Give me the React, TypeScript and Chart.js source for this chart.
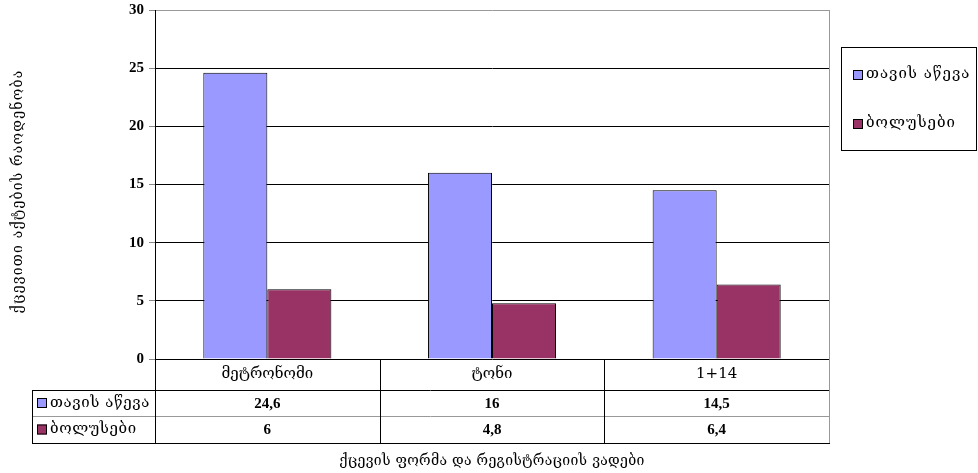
import React, { useEffect, useRef } from "react";
import { Chart, registerables } from "chart.js";

Chart.register(...registerables);

const categories = ["მეტრონომი", "ტონი", "1+14"];
const seriesNames = ["თავის აწევა", "ბოლუსები"];
const headLift = [24.6, 16, 14.5];
const boluses = [6, 4.8, 6.4];
const seriesColors = ["#9999FF", "#993366"];
const yTitle = "ქცევითი აქტების რაოდენობა";
const xTitle = "ქცევის ფორმა და რეგისტრაციის ვადები";

const GEO = '"DejaVu Serif", "Liberation Serif", serif';
const NUM = '"Liberation Serif", "Times New Roman", serif';

const fmt = (v: number) => String(v).replace(".", ",");

const setSpacing = (ctx: any, px: number) => {
  if ("letterSpacing" in ctx) ctx.letterSpacing = `${px}px`;
};

const tablePlugin = {
  id: "dataTable",
  afterDraw(chart: any) {
    const ctx = chart.ctx as CanvasRenderingContext2D;
    const area = chart.chartArea;
    const x = chart.scales.x;
    const n = categories.length;
    const catW = (x.right - x.left) / n;
    const y0 = area.bottom;
    const y1 = y0 + 31;
    const y2 = y1 + 26;
    const y3 = y2 + 27;
    const tableLeft = 32;
    const values = [headLift, boluses];

    ctx.save();
    // right plot border
    ctx.lineWidth = 1;
    ctx.strokeStyle = "#999999";
    ctx.beginPath();
    ctx.moveTo(area.right + 0.5, area.top);
    ctx.lineTo(area.right + 0.5, y3);
    ctx.stroke();

    // row separator between series rows
    ctx.beginPath();
    ctx.moveTo(tableLeft, y2 + 0.5);
    ctx.lineTo(area.right, y2 + 0.5);
    ctx.stroke();

    ctx.strokeStyle = "#000000";
    ctx.beginPath();
    // horizontal lines
    ctx.moveTo(tableLeft, y1 + 0.5);
    ctx.lineTo(area.right, y1 + 0.5);
    ctx.moveTo(tableLeft, y3 + 0.5);
    ctx.lineTo(area.right + 1, y3 + 0.5);
    // left column border
    ctx.moveTo(tableLeft + 0.5, y1);
    ctx.lineTo(tableLeft + 0.5, y3);
    // category boundaries
    for (let i = 0; i < n; i++) {
      const bx = Math.round(x.left + catW * i) + 0.5;
      ctx.moveTo(bx, y0);
      ctx.lineTo(bx, y3);
    }
    ctx.stroke();

    // category labels
    ctx.fillStyle = "#000";
    ctx.textAlign = "center";
    ctx.textBaseline = "middle";
    ctx.font = `15px ${GEO}`;
    setSpacing(ctx, 0);
    categories.forEach((c, i) => {
      ctx.fillText(c, x.getPixelForValue(i), (y0 + y1) / 2);
    });

    // value rows
    const rowMid = [(y1 + y2) / 2 + 1, (y2 + y3) / 2 + 1];
    values.forEach((arr, r) => {
      ctx.font = `bold 15px ${NUM}`;
      setSpacing(ctx, 0);
      ctx.textAlign = "center";
      arr.forEach((v, i) => {
        ctx.fillText(fmt(v), x.getPixelForValue(i), rowMid[r]);
      });
      // series key
      ctx.fillStyle = seriesColors[r];
      ctx.fillRect(tableLeft + 5, rowMid[r] - 6, 10, 10);
      ctx.strokeStyle = "#000";
      ctx.strokeRect(tableLeft + 5.5, rowMid[r] - 5.5, 9, 9);
      ctx.fillStyle = "#000";
      ctx.textAlign = "left";
      ctx.font = `15px ${GEO}`;
      setSpacing(ctx, 0.6);
      ctx.fillText(seriesNames[r], tableLeft + 18, rowMid[r] - 1);
    });

    // axis titles
    ctx.font = `14px ${GEO}`;
    setSpacing(ctx, 0.3);
    ctx.textAlign = "center";
    ctx.fillText(xTitle, (area.left + area.right) / 2, y3 + 18);

    ctx.save();
    ctx.translate(18, (area.top + area.bottom) / 2 + 7);
    ctx.rotate(-Math.PI / 2);
    setSpacing(ctx, 1.2);
    ctx.fillText(yTitle, 0, 0);
    ctx.restore();

    // legend box
    const lx = 841, ly = 47, lw = 135, lh = 103;
    ctx.strokeStyle = "#000";
    ctx.strokeRect(lx + 0.5, ly + 0.5, lw, lh);
    const itemY = [ly + 28, ly + 77];
    seriesNames.forEach((name, r) => {
      ctx.fillStyle = seriesColors[r];
      ctx.fillRect(lx + 12, itemY[r] - 5, 10, 10);
      ctx.strokeStyle = "#000";
      ctx.strokeRect(lx + 12.5, itemY[r] - 4.5, 9, 9);
      ctx.fillStyle = "#000";
      ctx.textAlign = "left";
      ctx.font = `15px ${GEO}`;
      setSpacing(ctx, 1);
      ctx.fillText(name, lx + 25, itemY[r] - 1);
    });
    ctx.restore();
  },
};

export default function App() {
  const ref = useRef<HTMLCanvasElement>(null);

  useEffect(() => {
    if (!ref.current) return;
    const chart = new Chart(ref.current, {
      type: "bar",
      data: {
        labels: categories,
        datasets: [
          {
            label: seriesNames[0],
            data: headLift,
            backgroundColor: seriesColors[0],
            borderColor: "#000",
            borderWidth: 1,
            categoryPercentage: 0.57,
            barPercentage: 1,
          },
          {
            label: seriesNames[1],
            data: boluses,
            backgroundColor: seriesColors[1],
            borderColor: "#000",
            borderWidth: 1,
            categoryPercentage: 0.57,
            barPercentage: 1,
          },
        ],
      },
      options: {
        responsive: false,
        animation: false,
        devicePixelRatio: 1,
        layout: { padding: { top: 10, right: 149, left: 0, bottom: 0 } },
        plugins: {
          legend: { display: false },
          tooltip: { enabled: false },
        },
        scales: {
          x: {
            ticks: { display: false },
            grid: { display: false },
            border: { display: false },
            afterFit: (s: any) => {
              s.height = 114;
              s.paddingLeft = 0;
              s.paddingRight = 0;
            },
          },
          y: {
            min: 0,
            max: 30,
            ticks: {
              stepSize: 5,
              color: "#000",
              padding: 5,
              font: { family: NUM, size: 15, weight: "bold" },
            },
            grid: {
              color: (c: any) => (c.tick && c.tick.value === 30 ? "#999999" : "#000000"),
              tickColor: "#888888",
              tickLength: 6,
              lineWidth: 1,
            },
            border: { display: true, color: "#000" },
            afterFit: (s: any) => {
              s.width = 155;
              s.paddingTop = 0;
              s.paddingBottom = 0;
            },
          },
        },
      },
      plugins: [tablePlugin],
    });
    return () => chart.destroy();
  }, []);

  return (
    <div style={{ position: "fixed", left: 0, top: 0, width: 978, height: 473, background: "#fff" }}>
      <canvas ref={ref} width={978} height={473} />
    </div>
  );
}
